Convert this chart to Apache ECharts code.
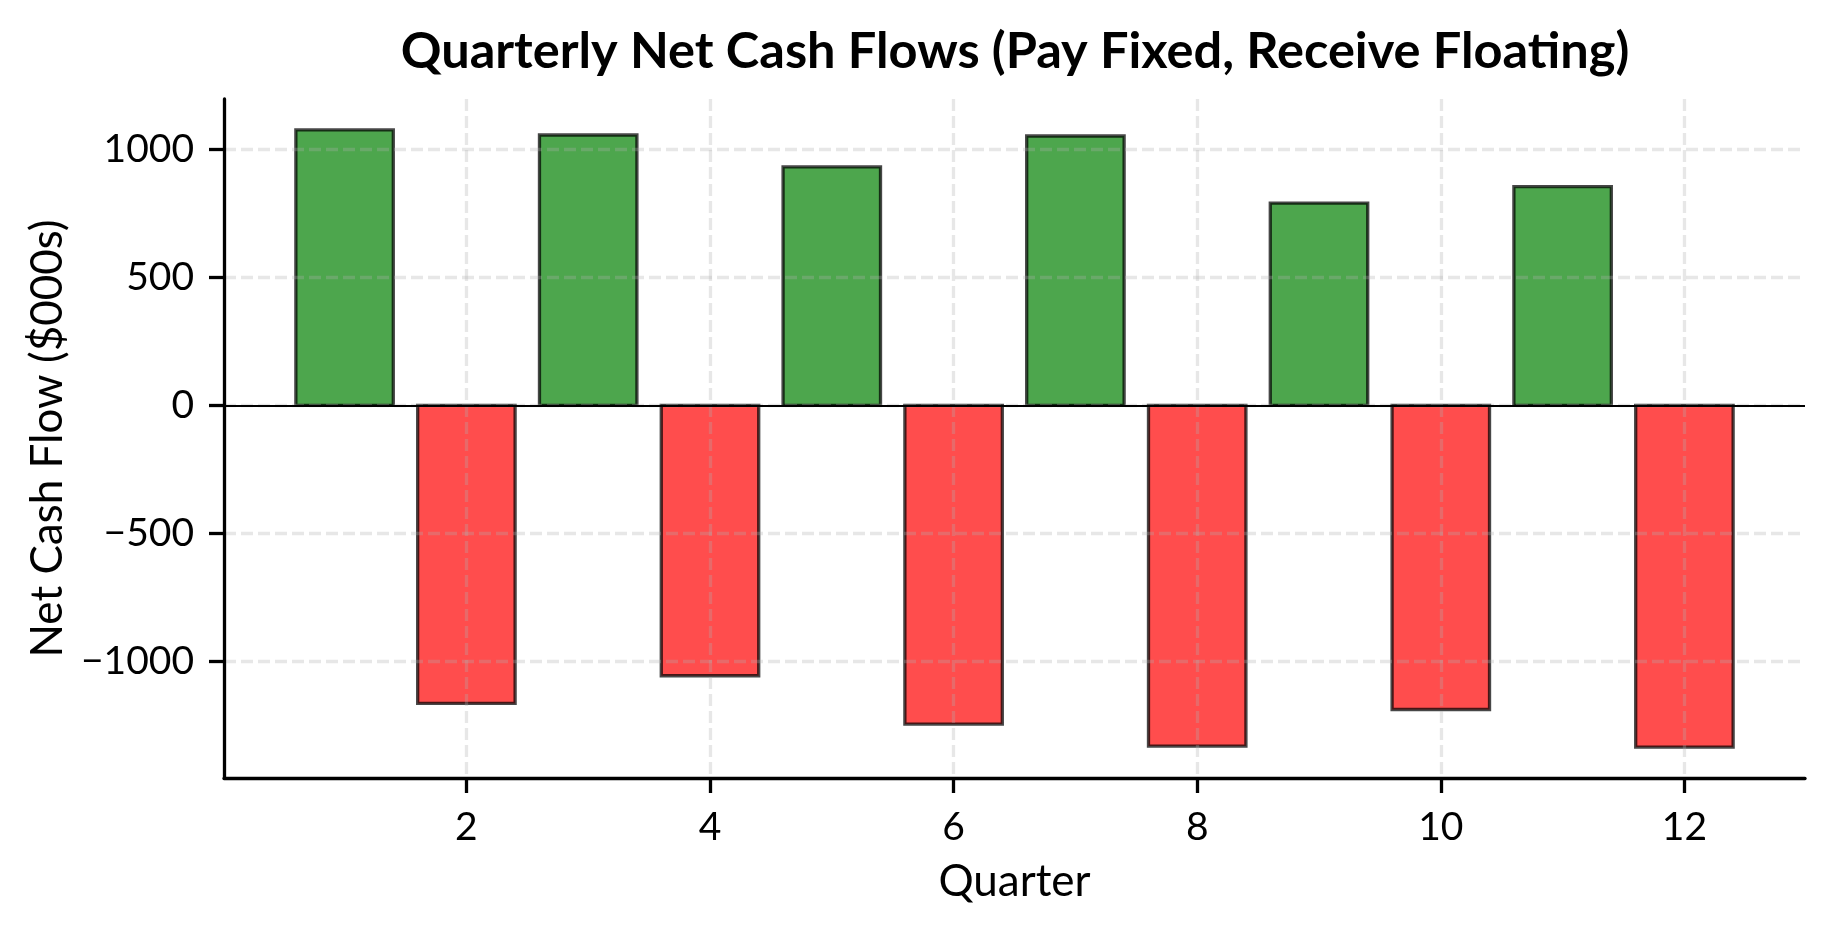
<!DOCTYPE html>
<html>
<head>
<meta charset="utf-8">
<script src="https://cdn.jsdelivr.net/npm/echarts@6/dist/echarts.min.js"></script>
<style>
  html, body { margin: 0; padding: 0; background: #fff; }
  #main { width: 1834px; height: 934px; }
</style>
</head>
<body>
<div id="main"></div>
<script>
// quarter number and net cash flow ($000s)
const quarters = [1, 2, 3, 4, 5, 6, 7, 8, 9, 10, 11, 12];
const netFlows = [1077, -1165, 1057, -1057, 932, -1246, 1053, -1332, 791, -1189, 855, -1336];
const xTicks = [2, 4, 6, 8, 10, 12];
const yTicks = [-1000, -500, 0, 500, 1000];

const FONT = 'Lato, "Noto Sans", sans-serif';
const gridColor = 'rgba(176,176,176,0.3)';

const chart = echarts.init(document.getElementById('main'), null, { renderer: 'canvas' });

const barData = quarters.map((q, i) => [q, netFlows[i]]);

// matplotlib-style bar: width 0.8 in data units, drawn via the axis scales
function renderBar(params, api) {
  const x = api.value(0);
  const y = api.value(1);
  const p0 = api.coord([x - 0.4, 0]);
  const p1 = api.coord([x + 0.4, y]);
  return {
    type: 'rect',
    shape: {
      x: p0[0],
      y: Math.min(p0[1], p1[1]),
      width: p1[0] - p0[0],
      height: Math.abs(p1[1] - p0[1])
    },
    style: {
      fill: y >= 0 ? '#4da64d' : '#ff4d4d',
      stroke: 'rgba(0,0,0,0.72)',
      lineWidth: 3.3
    }
  };
}

const minus = (v) => (v < 0 ? '\u2212' + Math.abs(v) : String(v));

chart.setOption({
  animation: false,
  backgroundColor: '#fff',
  title: {
    text: 'Quarterly Net Cash Flows (Pay Fixed, Receive Floating)',
    left: 1010,
    top: 21,
    textAlign: 'center',
    textStyle: { fontFamily: FONT, fontWeight: 'bold', fontSize: 50.5, color: '#000' }
  },
  grid: { left: 224, right: 29, top: 99, bottom: 156, containLabel: false },
  xAxis: {
    type: 'value',
    min: 0.01,
    max: 12.99,
    z: 5,
    name: 'Quarter',
    nameLocation: 'middle',
    nameGap: 82,
    nameTextStyle: { fontFamily: FONT, fontSize: 44, color: '#000' },
    axisLine: { show: true, onZero: false, lineStyle: { color: '#000', width: 3.3 } },
    axisTick: { show: true, length: 15, lineStyle: { color: '#000', width: 3.3 }, customValues: xTicks },
    axisLabel: { customValues: xTicks, margin: 30, fontFamily: FONT, fontSize: 39, color: '#000' },
    splitLine: { show: true, lineStyle: { color: gridColor, width: 3.3, type: [12, 5] } }
  },
  yAxis: {
    type: 'value',
    min: -1456.7,
    max: 1197.7,
    z: 5,
    name: 'Net Cash Flow ($000s)',
    nameLocation: 'middle',
    nameGap: 144,
    nameTextStyle: { fontFamily: FONT, fontSize: 44, color: '#000' },
    axisLine: { show: true, onZero: false, lineStyle: { color: '#000', width: 3.3 } },
    axisTick: { show: true, length: 15, lineStyle: { color: '#000', width: 3.3 }, customValues: yTicks },
    axisLabel: { customValues: yTicks, margin: 30, fontFamily: FONT, fontSize: 39, color: '#000', formatter: minus },
    splitLine: { show: true, lineStyle: { color: gridColor, width: 3.3, type: [12, 5] } }
  },
  series: [
    {
      type: 'custom',
      name: 'Net Cash Flow',
      renderItem: renderBar,
      encode: { x: 0, y: 1 },
      data: barData,
      z: 2
    },
    {
      // zero reference line
      type: 'line',
      data: [],
      silent: true,
      z: 4,
      markLine: {
        silent: true,
        symbol: 'none',
        label: { show: false },
        lineStyle: { color: '#000', width: 2, type: 'solid' },
        data: [{ yAxis: 0 }]
      }
    }
  ]
});
</script>
</body>
</html>
